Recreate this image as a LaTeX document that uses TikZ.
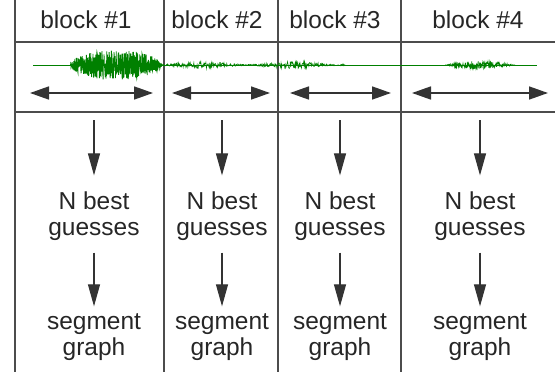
\documentclass[tikz,border=0pt]{standalone}
\usepackage{fontspec}
\setmainfont{Liberation Sans}
\usetikzlibrary{arrows.meta,positioning}

\tikzset{
  rule/.style={line width=1.4pt, black!70},
  wave/.style={green!50!black, line width=0.8pt},
  blocktitle/.style={font=\fontsize{24.5}{27}\selectfont, text=black!85, inner sep=0pt, anchor=base},
  flowtext/.style={align=center, font=\fontsize{24.5}{26}\selectfont, text=black!85, inner sep=2pt},
  blockspan/.style={{Triangle[length=19pt,width=13pt]}-{Triangle[length=19pt,width=13pt]}, line width=1.6pt, black!80},
  downarrow/.style={-{Triangle[length=22pt,width=12pt]}, line width=1.2pt, black!80}
}

\begin{document}
\begin{tikzpicture}[x=1pt, y=-1pt]
  \useasboundingbox (0,0) rectangle (555,372);

  % -------------------------------------------------------
  % 1. Table rules
  % -------------------------------------------------------
  \draw[rule] (15,0) -- (15,372);
  \foreach \xd in {164, 278, 401} {
    \draw[rule] (\xd,0) -- (\xd,372);
  }
  \draw[rule] (15,42) -- (555,42);
  \draw[rule] (15,112) -- (555,112);

  % -------------------------------------------------------
  % 2. Speech waveform
  % -------------------------------------------------------
  \pgfmathsetseed{7}
  \draw[wave, line width=0.6pt] (33,65) -- (537,65);
  \draw[wave] plot[domain=70.5:161.5, samples=500, variable=\t]
    (\t, {65 + 15*sqrt(sin((\t-70)/92*180))*rand});
  \draw[wave, line width=0.6pt] plot[domain=160:345, samples=400, variable=\t]
    (\t, {65 + (2.2 + 1.5*sin(\t*4))*rand});
  \draw[wave, line width=0.6pt] plot[domain=445:515, samples=250, variable=\t]
    (\t, {65 + 4*sin((\t-445)/70*180)*rand});

  % -------------------------------------------------------
  % 3. Blocks: title, span, N best guesses, segment graph
  % -------------------------------------------------------
  \foreach \n/\xl/\xf/\xa/\xb in {1/86/94/30/153, 2/217/222/172/270,
                                 3/335/340/290/391, 4/478/480/412/548} {
    \node[blocktitle] (title\n) at (\xl,28) {block \#\n};

    \coordinate (left\n) at (\xa,93);
    \coordinate (right\n) at (\xb,93);
    \draw[blockspan] (left\n) -- (right\n);

    \coordinate (start\n) at (\xf,120);
    \node[flowtext] (best\n) at (\xf,216) {N best\\guesses};
    \node[flowtext] (graph\n) at (\xf,337) {segment\\graph};

    \draw[downarrow, shorten >=14pt] (start\n) -- (best\n);
    \draw[downarrow, shorten <=10pt, shorten >=5pt] (best\n) -- (graph\n);
  }
\end{tikzpicture}
\end{document}
